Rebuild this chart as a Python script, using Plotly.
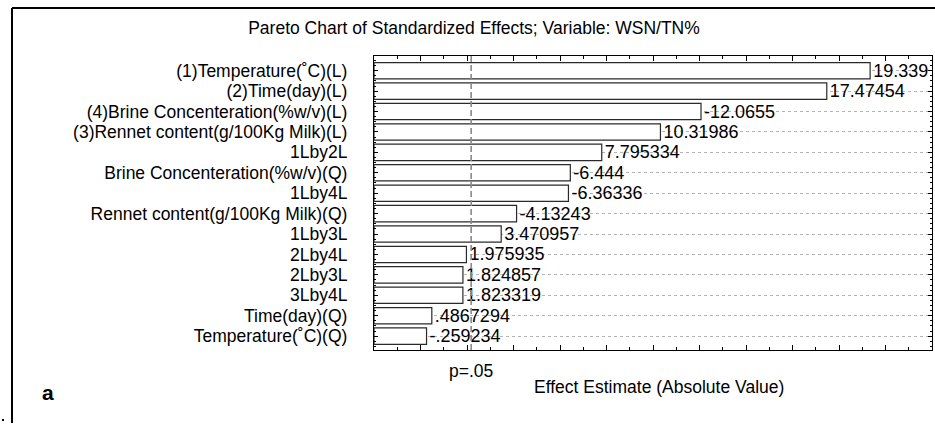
import plotly.graph_objects as go

# ---- data ----
factors = [
    "(1)Temperature(˚C)(L)",
    "(2)Time(day)(L)",
    "(4)Brine Concenteration(%w/v)(L)",
    "(3)Rennet content(g/100Kg Milk)(L)",
    "1Lby2L",
    "Brine Concenteration(%w/v)(Q)",
    "1Lby4L",
    "Rennet content(g/100Kg Milk)(Q)",
    "1Lby3L",
    "2Lby4L",
    "2Lby3L",
    "3Lby4L",
    "Time(day)(Q)",
    "Temperature(˚C)(Q)",
]
effects = [19.339, 17.47454, -12.0655, 10.31986, 7.795334, -6.444, -6.36336,
           -4.13243, 3.470957, 1.975935, 1.824857, 1.823319, 0.4867294, -0.259234]
p_critical = 2.179          # p=.05 reference line
x_range = [-2, 22]

title_text = "Pareto Chart of Standardized Effects; Variable: WSN/TN%"
x_title = "Effect Estimate (Absolute Value)"
p_label = "p=.05"
panel_label = "a"

def fmt(v):
    s = str(v)
    return s.replace("0.", ".", 1) if s.lstrip("-").startswith("0.") else s

value_text = [fmt(v) for v in effects]
abs_effects = [abs(v) for v in effects]
idx = list(range(len(factors)))

# ---- layout geometry (pixels) ----
W, H = 935, 425
L, R, T, B = 374, 3, 56, 75
pw, ph = W - L - R, H - T - B

def px_x(x):
    return (x - L) / pw

def px_y(y):
    return (H - B - y) / ph

FONT = "Liberation Sans, Arial, Helvetica, sans-serif"

fig = go.Figure()
fig.add_trace(go.Bar(
    y=idx,
    x=[a - x_range[0] for a in abs_effects],
    base=x_range[0],
    orientation="h",
    width=0.8,
    marker=dict(color="white", line=dict(color="#2a2a2a", width=1.2)),
    text=value_text,
    textposition="outside",
    constraintext="none",
    cliponaxis=False,
    textfont=dict(family=FONT, size=18, color="black"),
    hoverinfo="skip",
))

fig.add_shape(type="line", xref="x", yref="paper", x0=p_critical, x1=p_critical,
              y0=0, y1=1, layer="above",
              line=dict(color="#8a8a8a", width=1.6, dash="6px,3px"))

fig.add_annotation(text=p_label, xref="x", x=p_critical, yref="paper", y=px_y(371),
                   showarrow=False, xanchor="center", yanchor="middle",
                   font=dict(family=FONT, size=17.5, color="black"))
fig.add_annotation(text=x_title, xref="paper", x=px_x(659), yref="paper", y=px_y(387),
                   showarrow=False, xanchor="center", yanchor="middle",
                   font=dict(family=FONT, size=17.5, color="black"))
fig.add_annotation(text="<b>%s</b>" % panel_label, xref="paper", x=px_x(47.5), yref="paper",
                   y=px_y(392), showarrow=False, xanchor="center", yanchor="middle",
                   font=dict(family=FONT, size=21, color="black"))

# outer frame lines
fig.add_shape(type="line", xref="paper", yref="paper", x0=px_x(12), x1=px_x(936),
              y0=px_y(8), y1=px_y(8), line=dict(color="black", width=2))
fig.add_shape(type="line", xref="paper", yref="paper", x0=px_x(12), x1=px_x(12),
              y0=px_y(8), y1=px_y(423), line=dict(color="black", width=2))
fig.add_shape(type="rect", xref="paper", yref="paper", x0=px_x(2), x1=px_x(4),
              y0=px_y(419), y1=px_y(421), line=dict(width=0), fillcolor="black")

fig.update_layout(
    width=W, height=H,
    margin=dict(l=L, r=R, t=T, b=B),
    paper_bgcolor="white", plot_bgcolor="white",
    showlegend=False,
    title=dict(text=title_text, x=474 / W, xanchor="center", y=1 - 28 / H,
               yanchor="middle", font=dict(family=FONT, size=17.5, color="black")),
    font=dict(family=FONT, size=17.5, color="black"),
    xaxis=dict(range=x_range, showticklabels=False, ticks="inside", ticklen=5,
               tick0=0, dtick=2, tickcolor="black", showgrid=False, zeroline=False,
               showline=True, linecolor="black", linewidth=1.2, mirror="allticks",
               minor=dict(ticks="inside", ticklen=3, dtick=1, tick0=0,
                          tickcolor="black", showgrid=False)),
    yaxis=dict(range=[len(factors) - 1 + 0.68, -0.72], tickmode="array",
               tickvals=idx, ticktext=factors, ticks="inside", ticklen=4,
               tickcolor="black", ticklabelstandoff=22,
               showgrid=True, gridcolor="#b4b4b4", griddash="dot", gridwidth=1,
               zeroline=False, showline=True, linecolor="black", linewidth=1.2,
               mirror="allticks",
               tickfont=dict(family=FONT, size=17.5, color="black"),
               minor=dict(ticks="inside", ticklen=2, tickmode="linear", tick0=0,
                          dtick=0.25, tickcolor="black", showgrid=False)),
)

fig.write_html("out.html", config={"displayModeBar": False},
               post_script="document.body.style.margin='0';document.body.style.overflow='hidden';")
